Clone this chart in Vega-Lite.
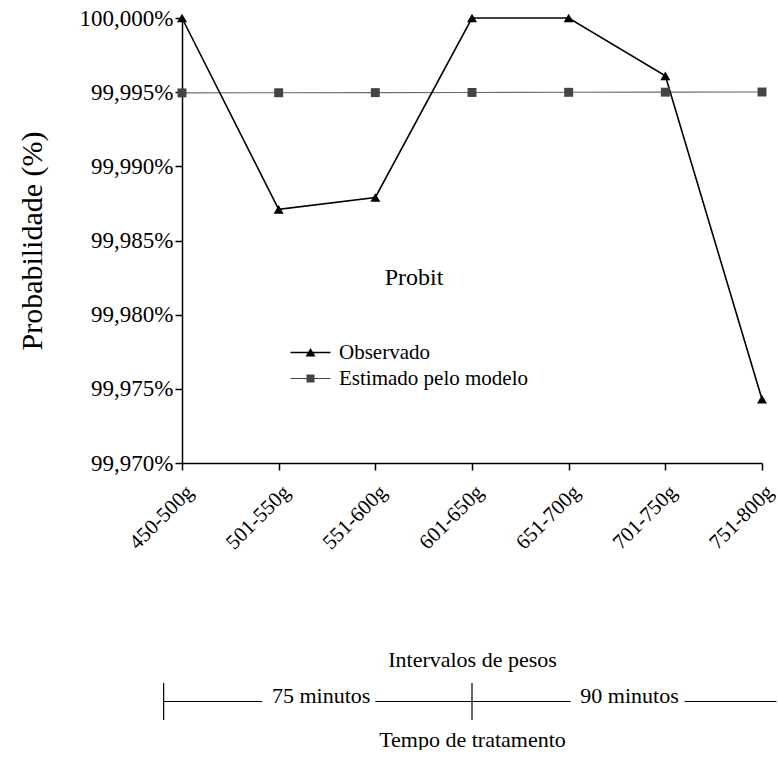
{
  "$schema": "https://vega.github.io/schema/vega-lite/v6.json",
  "background": "white",
  "padding": {"left": 17, "top": 7, "right": 0, "bottom": 0},
  "bounds": "flush",
  "spacing": 220,
  "config": {
    "font": "Liberation Serif",
    "view": {"stroke": null},
    "axis": {
      "grid": false,
      "domainColor": "black",
      "tickColor": "black",
      "labelColor": "black",
      "titleColor": "black",
      "labelFont": "Liberation Serif",
      "titleFont": "Liberation Serif",
      "titleFontWeight": "normal",
      "domainWidth": 1.5,
      "tickWidth": 1.5
    },
    "legend": {
      "labelFont": "Liberation Serif",
      "titleFont": "Liberation Serif",
      "titleFontWeight": "normal",
      "labelColor": "black",
      "titleColor": "black"
    }
  },
  "vconcat": [
    {
      "width": 580,
      "height": 445,
      "data": {
        "values": [
          {"intervalo": "450-500g", "serie": "Observado", "prob": 100.0},
          {"intervalo": "501-550g", "serie": "Observado", "prob": 99.9871},
          {"intervalo": "551-600g", "serie": "Observado", "prob": 99.9879},
          {"intervalo": "601-650g", "serie": "Observado", "prob": 100.0},
          {"intervalo": "651-700g", "serie": "Observado", "prob": 100.0},
          {"intervalo": "701-750g", "serie": "Observado", "prob": 99.9961},
          {"intervalo": "751-800g", "serie": "Observado", "prob": 99.9743},
          {"intervalo": "450-500g", "serie": "Estimado pelo modelo", "prob": 99.99495},
          {"intervalo": "501-550g", "serie": "Estimado pelo modelo", "prob": 99.99496},
          {"intervalo": "551-600g", "serie": "Estimado pelo modelo", "prob": 99.99497},
          {"intervalo": "601-650g", "serie": "Estimado pelo modelo", "prob": 99.99498},
          {"intervalo": "651-700g", "serie": "Estimado pelo modelo", "prob": 99.99499},
          {"intervalo": "701-750g", "serie": "Estimado pelo modelo", "prob": 99.995},
          {"intervalo": "751-800g", "serie": "Estimado pelo modelo", "prob": 99.99501}
        ]
      },
      "encoding": {
        "x": {
          "field": "intervalo",
          "type": "ordinal",
          "sort": null,
          "scale": {"type": "point", "padding": 0},
          "axis": {
            "title": "Intervalos de pesos",
            "labelAngle": -45,
            "labelFontSize": 21,
            "labelOffset": 0,
            "labelPadding": 11,
            "titleFontSize": 22,
            "tickSize": 7,
            "titlePadding": 97
          }
        },
        "y": {
          "field": "prob",
          "type": "quantitative",
          "scale": {"domain": [99.97, 100.0], "zero": false, "nice": false},
          "axis": {
            "title": "Probabilidade (%)",
            "values": [99.97, 99.975, 99.98, 99.985, 99.99, 99.995, 100.0],
            "labelExpr": "replace(format(datum.value, '.3f'), '.', ',') + '%'",
            "labelFontSize": 23,
            "titleFontSize": 30,
            "titlePadding": 32,
            "tickSize": 7
          }
        }
      },
      "layer": [
        {
          "transform": [{"filter": "datum.serie === 'Estimado pelo modelo'"}],
          "mark": {"type": "line", "color": "#6a6a6a", "strokeWidth": 1.1}
        },
        {
          "transform": [{"filter": "datum.serie === 'Observado'"}],
          "mark": {"type": "line", "color": "black", "strokeWidth": 1.6}
        },
        {
          "transform": [{"filter": "datum.serie === 'Estimado pelo modelo'"}],
          "mark": {"type": "point", "shape": "square", "filled": true, "color": "#444", "opacity": 1, "size": 80}
        },
        {
          "transform": [{"filter": "datum.serie === 'Observado'"}],
          "mark": {"type": "point", "shape": "triangle-up", "filled": true, "color": "black", "opacity": 1, "size": 100}
        },
        {
          "mark": {"type": "point", "filled": true, "opacity": 0, "size": 400},
          "encoding": {
            "shape": {
              "field": "serie",
              "type": "nominal",
              "scale": {
                "domain": ["Observado", "Estimado pelo modelo"],
                "range": [
                  "M-2,-0.07H2V0.07H-2ZM-0.5,0.4L0,-0.45L0.5,0.4Z",
                  "M-2,-0.06H2V0.06H-2ZM-0.4,-0.4H0.4V0.4H-0.4Z"
                ]
              },
              "legend": {
                "title": "Probit",
                "orient": "none",
                "legendX": 118,
                "legendY": 248,
                "padding": 0,
                "titleFontSize": 24,
                "titleAnchor": "middle",
                "titlePadding": 52,
                "labelFontSize": 21,
                "labelOffset": 18,
                "labelLimit": 300,
                "rowPadding": 4,
                "symbolSize": 400,
                "symbolOpacity": 1,
                "symbolStrokeWidth": 0
              }
            },
            "color": {
              "field": "serie",
              "type": "nominal",
              "scale": {"domain": ["Observado", "Estimado pelo modelo"], "range": ["black", "#444"]}
            }
          }
        }
      ]
    },
    {
      "width": 580,
      "height": 37,
      "layer": [
        {
          "data": {
            "values": [
              {"inicio": -0.19, "fim": 0.83},
              {"inicio": 2.0, "fim": 3.0},
              {"inicio": 3.0, "fim": 4.02},
              {"inicio": 5.2, "fim": 6.15}
            ]
          },
          "mark": {"type": "rule", "color": "black", "strokeWidth": 1.2},
          "encoding": {
            "x": {
              "field": "inicio",
              "type": "quantitative",
              "scale": {"domain": [0, 6], "nice": false, "zero": false},
              "axis": {
                "title": "Tempo de tratamento",
                "titleFontSize": 22,
                "titlePadding": 9,
                "domain": false,
                "ticks": false,
                "labels": false
              }
            },
            "x2": {"field": "fim"},
            "y": {"datum": 0.5, "type": "quantitative", "scale": {"domain": [0, 1]}, "axis": null}
          }
        },
        {
          "data": {"values": [{"pos": -0.19}, {"pos": 3.0}]},
          "mark": {"type": "rule", "color": "black", "strokeWidth": 1.2},
          "encoding": {
            "x": {"field": "pos", "type": "quantitative"},
            "y": {"datum": 0, "type": "quantitative"},
            "y2": {"datum": 1}
          }
        },
        {
          "data": {
            "values": [
              {"pos": 1.44, "rotulo": "75 minutos"},
              {"pos": 4.63, "rotulo": "90 minutos"}
            ]
          },
          "mark": {"type": "text", "fontSize": 22, "color": "black", "baseline": "middle", "dy": -6, "font": "Liberation Serif"},
          "encoding": {
            "x": {"field": "pos", "type": "quantitative"},
            "y": {"datum": 0.5, "type": "quantitative"},
            "text": {"field": "rotulo"}
          }
        }
      ]
    }
  ]
}
